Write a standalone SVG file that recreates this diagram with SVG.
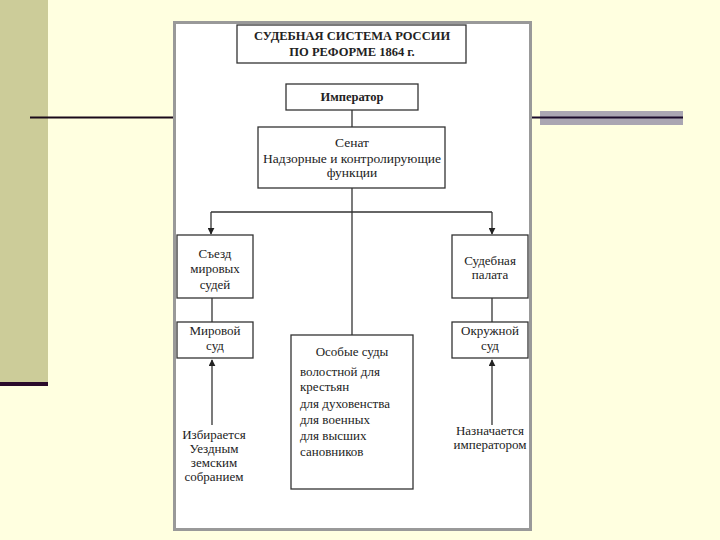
<svg xmlns="http://www.w3.org/2000/svg" width="720" height="540" viewBox="0 0 720 540">
<defs>
<marker id="ah" viewBox="0 0 10 10" refX="9" refY="5" markerWidth="7" markerHeight="7" orient="auto" markerUnits="userSpaceOnUse">
<path d="M0,0 L10,5 L0,10 z" fill="#222"/>
</marker>
<style>
.box{fill:#fff;stroke:#333;stroke-width:1.3}
.t{font-family:"Liberation Serif","DejaVu Serif",serif;font-size:13px;fill:#222;text-anchor:middle}
.b{font-weight:bold;font-size:12.5px}
.s{font-size:13.5px}
.l{text-anchor:start}
.c{stroke:#333;stroke-width:1.3;fill:none}
</style>
</defs>
<rect x="0" y="0" width="720" height="540" fill="#FFFFE0"/>
<rect x="0" y="0" width="48" height="383" fill="#CCCC99"/>
<rect x="0" y="382" width="48" height="4" fill="#2A0A2A"/>
<line x1="30" y1="117.5" x2="174" y2="117.5" stroke="#1A0A1A" stroke-width="2"/>
<rect x="540" y="111" width="143" height="14" fill="#AAA6B2"/>
<line x1="532" y1="117.5" x2="683" y2="117.5" stroke="#1A0A2A" stroke-width="2"/>
<rect x="174.5" y="22.5" width="356" height="507" fill="#fff" stroke="#999" stroke-width="3"/>
<g id="connectors">
<line class="c" x1="352" y1="110" x2="352" y2="127"/>
<line class="c" x1="352" y1="188" x2="352" y2="335"/>
<line class="c" x1="211" y1="212" x2="492" y2="212"/>
<line class="c" x1="211" y1="212" x2="211" y2="234" marker-end="url(#ah)"/>
<line class="c" x1="492" y1="212" x2="492" y2="234" marker-end="url(#ah)"/>
<line class="c" x1="212" y1="298" x2="212" y2="322"/>
<line class="c" x1="492" y1="298" x2="492" y2="322"/>
<line class="c" x1="212" y1="425" x2="212" y2="360" marker-end="url(#ah)"/>
<line class="c" x1="492" y1="425" x2="492" y2="360" marker-end="url(#ah)"/>
</g>
<g id="title">
<rect class="box" x="237" y="25" width="229" height="38"/>
<text class="t b" x="352" y="40">СУДЕБНАЯ СИСТЕМА РОССИИ</text>
<text class="t b" x="352" y="56">ПО РЕФОРМЕ 1864 г.</text>
</g>
<g id="emperor">
<rect class="box" x="286" y="84" width="132" height="26"/>
<text class="t b" x="352" y="101">Император</text>
</g>
<g id="senate">
<rect class="box" x="258" y="127" width="187" height="61"/>
<text class="t s" x="352" y="147">Сенат</text>
<text class="t s" x="352" y="163">Надзорные и контролирующие</text>
<text class="t s" x="352" y="177">функции</text>
</g>
<g id="congress">
<rect class="box" x="177" y="235" width="76" height="63"/>
<text class="t" x="215" y="258">Съезд</text>
<text class="t" x="215" y="273">мировых</text>
<text class="t" x="215" y="289">судей</text>
</g>
<g id="justice">
<rect class="box" x="177" y="322" width="76" height="36"/>
<text class="t" x="215" y="335">Мировой</text>
<text class="t" x="215" y="350">суд</text>
</g>
<g id="chamber">
<rect class="box" x="452" y="235" width="76" height="63"/>
<text class="t" x="490" y="265">Судебная</text>
<text class="t" x="490" y="279">палата</text>
</g>
<g id="district">
<rect class="box" x="452" y="322" width="76" height="36"/>
<text class="t" x="490" y="335">Окружной</text>
<text class="t" x="490" y="350">суд</text>
</g>
<g id="special">
<rect class="box" x="291" y="335" width="122" height="154"/>
<text class="t" x="352" y="356">Особые суды</text>
<text class="t l" x="300" y="376">волостной для</text>
<text class="t l" x="300" y="391">крестьян</text>
<text class="t l" x="300" y="408">для духовенства</text>
<text class="t l" x="300" y="424">для военных</text>
<text class="t l" x="300" y="440">для высших</text>
<text class="t l" x="300" y="456">сановников</text>
</g>
<g id="elected">
<text class="t" x="214" y="439">Избирается</text>
<text class="t" x="214" y="453">Уездным</text>
<text class="t" x="214" y="467">земским</text>
<text class="t" x="214" y="481">собранием</text>
</g>
<g id="appointed">
<text class="t" x="490" y="435">Назначается</text>
<text class="t" x="490" y="449">императором</text>
</g>
</svg>
